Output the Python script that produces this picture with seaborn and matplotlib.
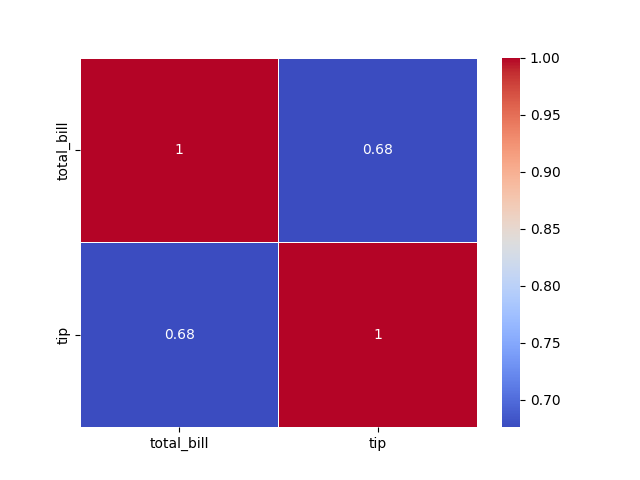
import numpy as np
import pandas as pd
import matplotlib
matplotlib.use("Agg")
import matplotlib.pyplot as plt
import seaborn as sns

labels = ["total_bill", "tip"]
row_total_bill = [1.0, 0.6757]
row_tip = [0.6757, 1.0]

corr = pd.DataFrame([row_total_bill, row_tip], index=labels, columns=labels)

plt.figure(figsize=(6.4, 4.8), dpi=100)
sns.heatmap(corr, annot=True, cmap="coolwarm", linewidths=0.5, linecolor="white")
plt.savefig("out.png", dpi=100)
